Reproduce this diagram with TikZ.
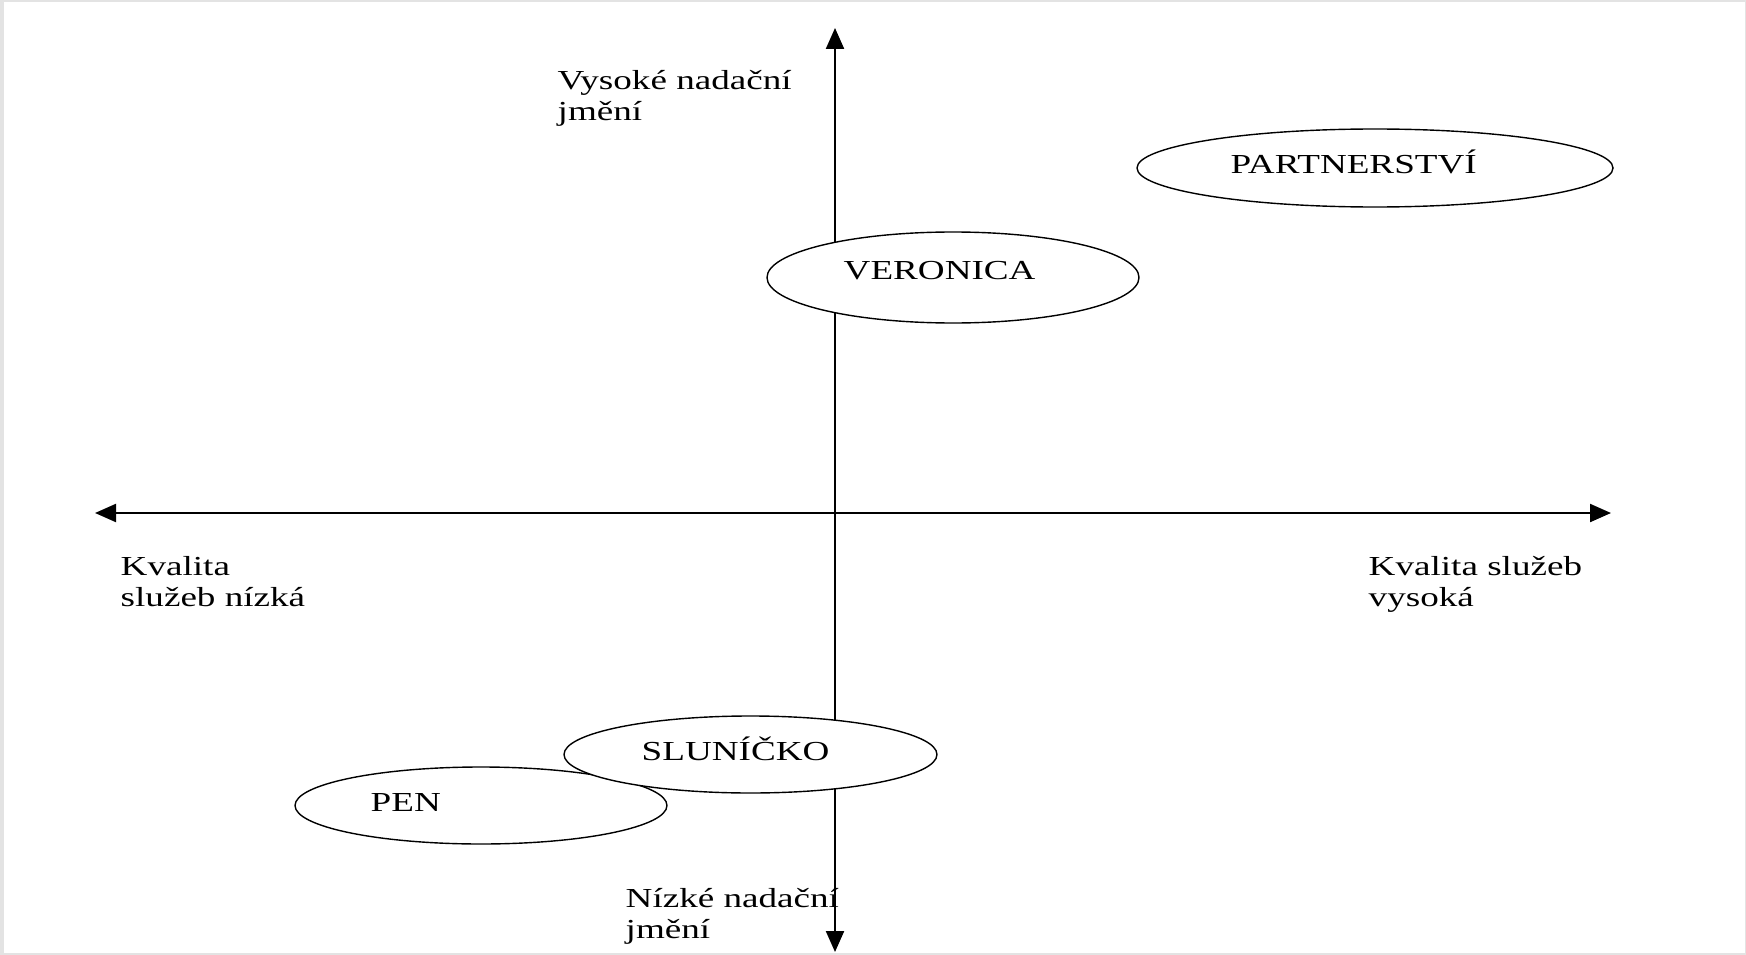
\documentclass[tikz,border=0pt]{standalone}
\usepackage{fontspec}
\setmainfont{Liberation Serif}[FakeStretch=1.35]
\usepackage{tikz}
\usetikzlibrary{arrows.meta,shapes.geometric}
\definecolor{frameGrey}{RGB}{227,227,227}
\tikzset{every picture/.style={line width=1.4pt}}
\tikzset{
  axis/.style={line width=2.2pt, {Triangle[length=21pt,width=18pt]}-{Triangle[length=21pt,width=18pt]}},
  oval/.style={ellipse, draw, fill=white, line width=1.4pt, inner sep=0pt},
  lbl/.style={anchor=base west, inner sep=0pt, align=left, font=\fontsize{27.5}{31}\selectfont}
}

\begin{document}
\begin{tikzpicture}[x=1pt,y=1pt,yscale=-1,xscale=1]
\useasboundingbox (0,0) rectangle (1746,955);
\fill [frameGrey] (0,0) rectangle (1746,955);
\fill [white] (4,2) rectangle (1745,953);
% axes
\coordinate (top) at (835,28);
\coordinate (bottom) at (835,952);
\coordinate (left) at (95,513);
\coordinate (right) at (1611,513);
\draw [axis] (bottom) -- (top);
\draw [axis] (left) -- (right);
% ellipses
\node [oval, minimum width=372pt, minimum height=77pt] (pen) at (481,805.5) {};
\node [oval, minimum width=373pt, minimum height=77pt] (slunicko) at (750.5,754.5) {};
\node [oval, minimum width=372pt, minimum height=91pt] (veronica) at (953,277.5) {};
\node [oval, minimum width=476pt, minimum height=78pt] (partnerstvi) at (1375,168) {};
% texts
\node [lbl] (penText) at (370,811) {PEN};
\node [lbl] (slunickoText) at (641,760) {SLUNÍČKO};
\node [lbl] (veronicaText) at (843,279) {VERONICA};
\node [lbl] (partnerstviText) at (1230,173) {PARTNERSTVÍ};
% two-line labels: base is the last line
\node [lbl] (highFund) at (557,121) {Vysoké nadační\\jmění};
\node [lbl] (lowFund) at (625,938) {Nízké nadační\\jmění};
\node [lbl] (lowQuality) at (120,606) {Kvalita\\služeb nízká};
\node [lbl] (highQuality) at (1368,606) {Kvalita služeb\\vysoká};
\end{tikzpicture}
\end{document}
